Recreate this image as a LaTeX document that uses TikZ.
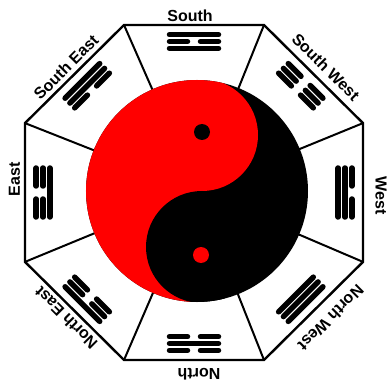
\documentclass[tikz,border=0pt]{standalone}
\usepackage{fontspec}
\setmainfont{Liberation Sans}
\tikzset{
  rim/.style={line width=2.4pt, line join=miter},
  spoke/.style={line width=2pt},
  dirlbl/.style={font=\fontsize{16}{18}\selectfont\bfseries, inner sep=0pt},
  yao/.style={line width=5.5pt, line cap=round}
}
% one line of a trigram: #1 = offset, #2 = 1 solid / 0 broken
\newcommand{\yaoline}[2]{%
  \ifnum#2=1 \draw[yao] (-24.5,#1) -- (24.5,#1);
  \else \draw[yao] (-24.5,#1) -- (-6.5,#1) (6.5,#1) -- (24.5,#1);\fi}
% trigram on side #1, lines from inner to outer
\newcommand{\gua}[4]{%
  \begin{scope}[shift={(#1:151)}, rotate=#1-90]
    \yaoline{-6.8}{#2}
    \yaoline{0}{#3}
    \yaoline{6.8}{#4}
  \end{scope}}

\begin{document}
\begin{tikzpicture}[x=1pt, y=1pt]
\useasboundingbox (-194,-192.5) rectangle (196,192.5);
\coordinate (ctr) at (3,1.5);
\foreach \i in {0,...,7}
  \coordinate (v\i) at ({22.5+45*\i}:182.9 and 181.3);
\foreach \i in {0,...,7}
  \draw[spoke] (v\i) -- (ctr);
\draw[rim] (v0) -- (v1) -- (v2) -- (v3) -- (v4) -- (v5) -- (v6) -- (v7) -- cycle;

% later heaven trigrams
\gua{90}{1}{0}{1}
\gua{45}{0}{0}{0}
\gua{0}{1}{1}{0}
\gua{-45}{1}{1}{1}
\gua{-90}{0}{1}{0}
\gua{-135}{0}{0}{1}
\gua{180}{1}{0}{0}
\gua{135}{0}{1}{1}

% yin yang
\fill (ctr) circle[radius=111];
\begin{scope}
  \clip (ctr) circle[radius=111];
  \fill[red] (-110,-112) rectangle (8,115);
  \fill[red] (8,57.5) circle[radius=56];
  \fill (8,-54.5) circle[radius=56];
\end{scope}
\fill (8,60.5) circle[radius=8];
\fill[red] (7,-62.5) circle[radius=8];

\node[dirlbl] (s) at (-4,177) {South};
\node[dirlbl, rotate=-45] (sw) at (132,125.5) {South West};
\node[dirlbl, rotate=-90] (w) at (187,-3) {West};
\node[dirlbl, rotate=-135] (nw) at (137,-125.5) {North West};
\node[dirlbl, rotate=180] (n) at (5,-181.5) {North};
\node[dirlbl, rotate=135] (ne) at (-128,-125.5) {North East};
\node[dirlbl, rotate=90] (e) at (-179.5,13) {East};
\node[dirlbl, rotate=45] (se) at (-128,125.5) {South East};
\end{tikzpicture}
\end{document}
